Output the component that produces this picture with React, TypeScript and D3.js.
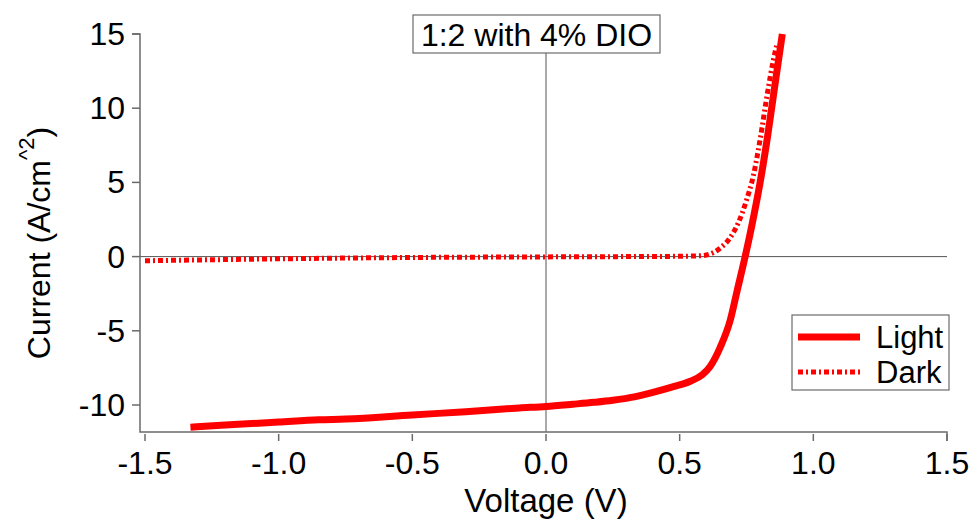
import React from 'react';
import * as d3 from 'd3';

// voltage (V) and current density
const lightV = [-1.33, -1.2, -1.0, -0.85, -0.75, -0.5, -0.3, -0.1, 0, 0.1, 0.18, 0.25, 0.33, 0.4, 0.48, 0.54, 0.585, 0.614, 0.652, 0.689, 0.715, 0.745, 0.77, 0.8, 0.828, 0.855, 0.884];
const lightJ = [-11.5, -11.35, -11.15, -11.0, -10.95, -10.67, -10.45, -10.2, -10.1, -9.95, -9.82, -9.68, -9.45, -9.15, -8.75, -8.4, -7.95, -7.4, -6.1, -4.3, -2.3, 0, 2.1, 4.9, 8.0, 11.4, 15];
const darkV = [-1.5, -1.2, -1.0, -0.5, 0, 0.3, 0.5, 0.58, 0.61, 0.65, 0.69, 0.72, 0.75, 0.775, 0.8, 0.83, 0.85, 0.865];
const darkJ = [-0.28, -0.2, -0.15, -0.06, -0.02, 0, 0.02, 0.06, 0.15, 0.55, 1.3, 2.3, 3.8, 5.4, 7.8, 11.2, 13.2, 14.4];

const xTicks = [-1.5, -1.0, -0.5, 0.0, 0.5, 1.0, 1.5];
const yTicks = [-10, -5, 0, 5, 10, 15];
const seriesNames = ['Light', 'Dark'];
const title = '1:2 with 4% DIO';

const W = 976;
const H = 520;
const RED = '#ff0000';
const AXIS = '#6b6b6b';
const FONT = '"Liberation Sans", Arial, sans-serif';

const App = () => {
  const x = d3.scaleLinear().domain([-1.5, 1.5]).range([145, 947]);
  const y = d3.scaleLinear().domain([-10, 15]).range([405, 34]);
  const left = 140;
  const bottom = 432;

  const line = d3
    .line<[number, number]>()
    .x((d) => x(d[0]))
    .y((d) => y(d[1]))
    .curve(d3.curveMonotoneX);

  const light = lightV.map((v, i) => [v, lightJ[i]] as [number, number]);
  const dark = darkV.map((v, i) => [v, darkJ[i]] as [number, number]);

  return (
    <svg width={W} height={H} style={{ position: 'absolute', left: 0, top: 0, background: '#fff' }} fontFamily={FONT}>
      {/* zero lines */}
      <line x1={left} x2={x(1.5)} y1={y(0)} y2={y(0)} stroke="#555" strokeWidth={1} />
      <line x1={x(0)} x2={x(0)} y1={y(15)} y2={bottom} stroke="#555" strokeWidth={1} />

      {/* axes */}
      <path d={`M${x(1.5)},${bottom + 9}V${bottom}H${left}V${y(15)}H${left - 8}`} fill="none" stroke={AXIS} strokeWidth={1.5} />
      {xTicks.map((t) => (
        <g key={t}>
          <line x1={x(t)} x2={x(t)} y1={bottom + 2} y2={bottom + 9} stroke={AXIS} strokeWidth={1.5} />
          <text x={x(t)} y={474} textAnchor="middle" fontSize={32}>{t.toFixed(1)}</text>
        </g>
      ))}
      {yTicks.map((t) => (
        <g key={t}>
          <line x1={left - 8} x2={left} y1={y(t)} y2={y(t)} stroke={AXIS} strokeWidth={1.5} />
          <text x={125} y={y(t) + 11} textAnchor="end" fontSize={32}>{t}</text>
        </g>
      ))}

      {/* axis titles */}
      <text x={546} y={512} textAnchor="middle" fontSize={33}>Voltage (V)</text>
      <text transform="translate(50,243) rotate(-90)" textAnchor="middle" fontSize={32}>
        Current (A/cm
        <tspan fontSize={22} dy={-16}>^2</tspan>
        <tspan dy={16}>)</tspan>
      </text>

      {/* curves */}
      <path d={line(dark) || ''} fill="none" stroke={RED} strokeWidth={5} strokeDasharray="5,3,2,3" />
      <path d={line(light) || ''} fill="none" stroke={RED} strokeWidth={7} />

      {/* title box */}
      <rect x={413} y={15} width={247} height={38} fill="#fff" stroke={AXIS} strokeWidth={1.2} />
      <text x={536.5} y={46} textAnchor="middle" fontSize={32}>{title}</text>

      {/* legend */}
      <rect x={792} y={315} width={157} height={75} fill="#fff" stroke={AXIS} strokeWidth={1.2} />
      <line x1={798} x2={860} y1={337} y2={337} stroke={RED} strokeWidth={7} />
      <line x1={798} x2={860} y1={372} y2={372} stroke={RED} strokeWidth={5} strokeDasharray="5,3,2,3" />
      <text x={876} y={348} fontSize={31}>{seriesNames[0]}</text>
      <text x={876} y={383} fontSize={31}>{seriesNames[1]}</text>
    </svg>
  );
};

export default App;
